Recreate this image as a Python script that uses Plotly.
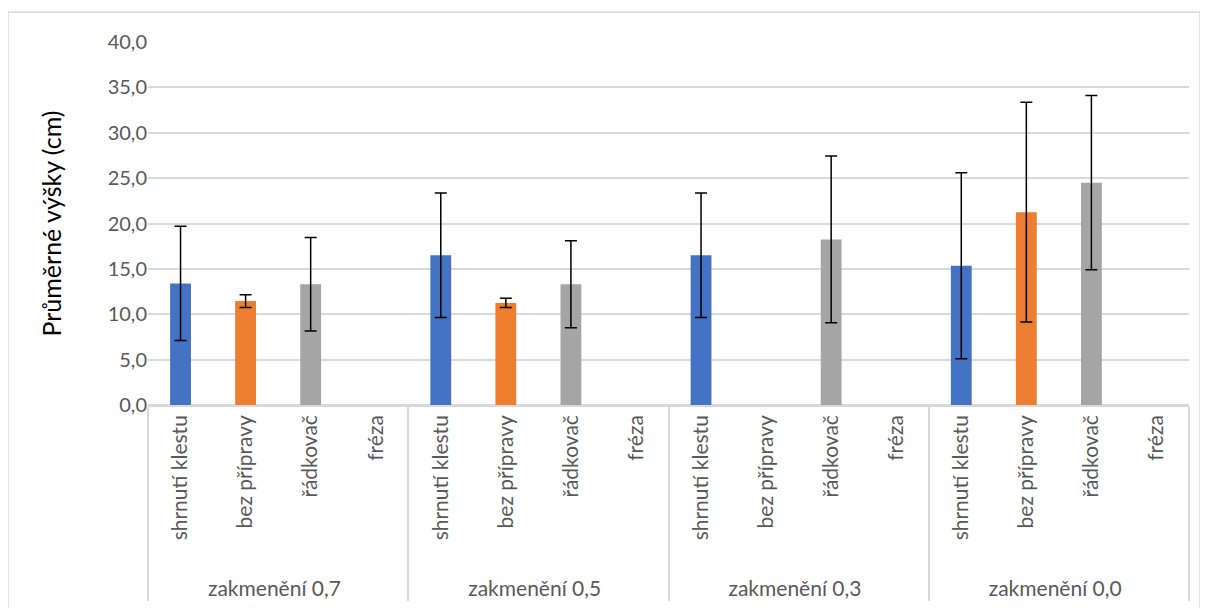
import plotly.graph_objects as go

groups = ["zakmenění 0,7", "zakmenění 0,5", "zakmenění 0,3", "zakmenění 0,0"]
methods = ["shrnutí klestu", "bez přípravy", "řádkovač", "fréza"]
colors = ["#4472C4", "#ED7D31", "#A5A5A5", "#FFC000"]

# mean heights (cm) per method, one value per group
shrnuti_klestu = [13.4, 16.5, 16.5, 15.35]
bez_pripravy = [11.45, 11.25, None, 21.25]
radkovac = [13.3, 13.3, 18.25, 24.5]
freza = [None, None, None, None]

# error bar half-widths
shrnuti_err = [6.3, 6.85, 6.85, 10.25]
bez_err = [0.7, 0.5, None, 12.1]
radkovac_err = [5.15, 4.8, 9.2, 9.6]
freza_err = [None, None, None, None]

means = [shrnuti_klestu, bez_pripravy, radkovac, freza]
errs = [shrnuti_err, bez_err, radkovac_err, freza_err]

# leading no-break spaces pad the rotated labels so the group row sits lower
pad = "\u00a0" * 3
labels = [pad + m for m in methods]

xg, xm, yv, ev, cv = [], [], [], [], []
for gi, g in enumerate(groups):
    for mi, m in enumerate(labels):
        xg.append(g)
        xm.append(m)
        yv.append(means[mi][gi])
        ev.append(errs[mi][gi])
        cv.append(colors[mi])

fig = go.Figure()
fig.add_trace(go.Bar(
    x=[xg, xm], y=yv, width=0.32,
    marker=dict(color=cv, line=dict(width=0)),
    error_y=dict(type="data", array=ev, visible=True, color="black",
                 thickness=1.5, width=6),
    showlegend=False,
))

tickfont = dict(family="Lato, Carlito, sans-serif", size=20, color="#595959")
xtickfont = dict(family="Lato, Carlito, sans-serif", size=21, color="#595959")
fig.update_layout(
    width=1208, height=608,
    margin=dict(l=140, r=27, t=34, b=211),
    paper_bgcolor="white", plot_bgcolor="white",
    separators=", ",
    font=dict(family="Lato, Carlito, sans-serif"),
    xaxis=dict(
        type="multicategory", tickangle=-90, tickfont=xtickfont,
        showline=True, linecolor="#d9d9d9", linewidth=1.5,
        showdividers=True, dividercolor="#d9d9d9", dividerwidth=1.5,
        ticks="", showgrid=False, automargin=False,
    ),
    yaxis=dict(
        range=[0, 40], dtick=5, tickformat=".1f", tickfont=tickfont,
        showgrid=True, gridcolor="#d9d9d9", gridwidth=1.5,
        zeroline=True, zerolinecolor="#d9d9d9", zerolinewidth=1.5,
        showline=False, ticks="", ticklen=0, automargin=False,
        title=dict(text="Průměrné výšky (cm)",
                   font=dict(family="Lato, Carlito, sans-serif", size=25, color="black"),
                   standoff=38),
    ),
    shapes=[dict(type="rect", xref="paper", yref="paper",
                 x0=-0.1345, x1=1.0106, y0=-0.6, y1=1.0817,
                 line=dict(color="#d9d9d9", width=1.5), fillcolor="rgba(0,0,0,0)",
                 layer="below")],
)

fig.write_html("out.html")
